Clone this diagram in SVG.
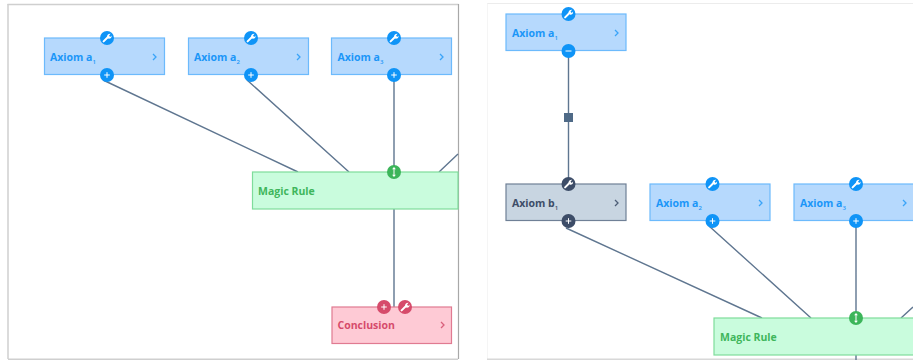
<svg xmlns="http://www.w3.org/2000/svg" width="913" height="360" viewBox="0 0 913 360">
<style>
.frame{fill:none;stroke:#cfcfcf;stroke-width:1.5}
.conn{fill:none;stroke:#5f7690;stroke-width:1.4}
.box{stroke-width:1.2}
.blue rect{fill:#b6d9fd;stroke:#6cbafc}
.blue text{fill:#1b96f8}
.blue circle{fill:#0f94f7}
.blue path.chev{stroke:#3aa4f8}
.green rect{fill:#c9fcdd;stroke:#7fdc9b}
.green text{fill:#3fb65c}
.red rect{fill:#fecad5;stroke:#e07a91}
.red text{fill:#d64b6b}
.red circle{fill:#d64b6b}
.red path.chev{stroke:#d9607c}
.slate rect{fill:#c8d5e1;stroke:#6f8096}
.slate text{fill:#3d4d68}
.slate circle{fill:#3d4d68}
.slate path.chev{stroke:#4d5d76}
text{font-family:"Open Sans","Noto Sans",sans-serif;font-size:10.500px;font-weight:700}
.sub{font-size:6px;font-weight:600}
.chev{fill:none;stroke-width:1.3}
.ico{fill:none;stroke:#fff;stroke-width:1}
.wr{fill:none;stroke:#fff;stroke-width:2;stroke-linecap:round}
</style>
<defs>
<g id="wrench"><path class="wr" d="M-3.400,3.400 L1,-1"/><path d="M0,-1.500 A3,3 0 0 1 3.600,-4.200 L2,-2.300 L3.300,-1 L4.600,-2.500 A3,3 0 0 1 1.500,0.700 Z" fill="#fff"/></g>
<path id="plus" class="ico" d="M-2.800,0H2.800M0,-2.800V2.800"/>
<g id="updown"><path d="M0,-3.500V3.500" fill="none" stroke="#fff" stroke-width="1"/><path d="M-1.900,-2.800L0,-5L1.900,-2.800ZM-1.900,2.800L0,5L1.900,2.800Z" fill="#fff"/></g>
</defs>
<path d="M7.500,4.500H458.500" class="frame"/>
<path d="M8,4V359" class="frame"/>
<path d="M458.500,4V359" fill="none" stroke="#a8a8a8" stroke-width="1.200"/>
<path d="M8,359.200H458" class="frame"/>
<path d="M487,3.500H913" fill="none" stroke="#ececec" stroke-width="1"/>
<path d="M487.500,3.500V359" fill="none" stroke="#f5f5f5" stroke-width="1"/>
<path d="M487,359.300H913" fill="none" stroke="#d8d8d8" stroke-width="1.400"/>
<g id="connectors">
<path class="conn" d="M103,80L298,172M247,80L349,172M394,75V172M439,172L458,154M394,209V307"/>
<path class="conn" d="M566,228L762,318M709,226L811,318M856,221V318M901,318L913,307M856,355V360"/>
<path class="conn" d="M568.500,51V184M568.500,221V228" />
<rect x="564" y="113" width="9" height="9" fill="#4f6a87"/>
</g>
<g id="n1" class="blue"><rect class="box" x="44.500" y="38" width="120" height="36.500"/><text x="50" y="60.500">Axiom a<tspan class="sub" dy="3.500">1</tspan></text><path class="chev" d="M153,54L156,57L153,60"/><circle cx="107" cy="38" r="7"/><use href="#wrench" x="107" y="38"/><circle cx="107" cy="75" r="7"/><use href="#plus" x="107" y="75"/></g>
<g id="n2" class="blue"><rect class="box" x="188.500" y="38" width="120" height="36.500"/><text x="194" y="60.500">Axiom a<tspan class="sub" dy="3.500">2</tspan></text><path class="chev" d="M297,54L300,57L297,60"/><circle cx="251" cy="38" r="7"/><use href="#wrench" x="251" y="38"/><circle cx="251" cy="75" r="7"/><use href="#plus" x="251" y="75"/></g>
<g id="n3" class="blue"><rect class="box" x="331.500" y="38" width="120" height="36.500"/><text x="337.500" y="60.500">Axiom a<tspan class="sub" dy="3.500">3</tspan></text><path class="chev" d="M440,54L443,57L440,60"/><circle cx="394" cy="38" r="7"/><use href="#wrench" x="394" y="38"/><circle cx="394" cy="75" r="7"/><use href="#plus" x="394" y="75"/></g>
<g id="n4" class="green"><rect class="box" x="252.500" y="172" width="205.500" height="37"/><text x="258" y="195">Magic Rule</text><circle cx="394" cy="172" r="7" fill="#3cb55a"/><use href="#updown" x="394" y="172"/></g>
<g id="n5" class="red"><rect class="box" x="332" y="307" width="119.500" height="36.500"/><text x="337.500" y="329">Conclusion</text><path class="chev" d="M441,322L444,325L441,328"/><circle cx="384" cy="307" r="7"/><use href="#plus" x="384" y="307"/><circle cx="405" cy="307" r="7"/><use href="#wrench" x="405" y="307"/></g>
<g id="n6" class="blue"><rect class="box" x="506" y="14" width="120" height="36.500"/><text x="512" y="36.500">Axiom a<tspan class="sub" dy="3.500">1</tspan></text><path class="chev" d="M615,30L618,33L615,36"/><circle cx="568.500" cy="14" r="7"/><use href="#wrench" x="568.500" y="14"/><circle cx="568.500" cy="51" r="7"/><path class="ico" d="M565.500,51H571.500"/></g>
<g id="n7" class="slate"><rect class="box" x="506" y="184" width="120" height="36.500"/><text x="512" y="206.500">Axiom b<tspan class="sub" dy="3.500">1</tspan></text><path class="chev" d="M615,200L618,203L615,206"/><circle cx="568.500" cy="184" r="7"/><use href="#wrench" x="568.500" y="184"/><circle cx="568.500" cy="221" r="7"/><use href="#plus" x="568.500" y="221"/></g>
<g id="n8" class="blue"><rect class="box" x="650" y="184" width="120" height="36.500"/><text x="656" y="206.500">Axiom a<tspan class="sub" dy="3.500">2</tspan></text><path class="chev" d="M759,200L762,203L759,206"/><circle cx="712.500" cy="184" r="7"/><use href="#wrench" x="712.500" y="184"/><circle cx="712.500" cy="221" r="7"/><use href="#plus" x="712.500" y="221"/></g>
<g id="n9" class="blue"><rect class="box" x="794" y="184" width="120" height="36.500"/><text x="800" y="206.500">Axiom a<tspan class="sub" dy="3.500">3</tspan></text><path class="chev" d="M903,200L906,203L903,206"/><circle cx="856" cy="184" r="7"/><use href="#wrench" x="856" y="184"/><circle cx="856" cy="221" r="7"/><use href="#plus" x="856" y="221"/></g>
<g id="n10" class="green"><rect class="box" x="714" y="318" width="200" height="37"/><text x="720" y="341">Magic Rule</text><circle cx="856" cy="318" r="7" fill="#3cb55a"/><use href="#updown" x="856" y="318"/></g>
</svg>
